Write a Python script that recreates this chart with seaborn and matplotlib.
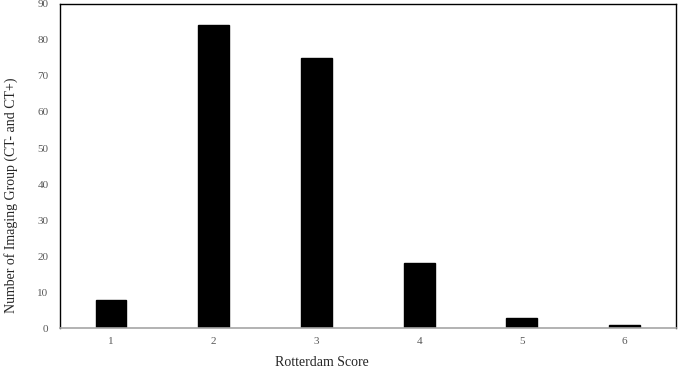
import pandas as pd
import seaborn as sns
import matplotlib.pyplot as plt

# Rotterdam score counts (CT- and CT+)
scores = ["1", "2", "3", "4", "5", "6"]
counts = [8, 84, 75, 18, 3, 1]

df = pd.DataFrame({"Rotterdam Score": scores, "Count": counts})

sns.set_style("white")
plt.rcParams['font.family'] = ['Liberation Serif', 'DejaVu Serif']

fig, ax = plt.subplots(figsize=(6.78, 3.69), dpi=100)
sns.barplot(df, x="Rotterdam Score", y="Count", ax=ax, color="black", width=0.3,
            edgecolor="black", saturation=1)

ax.set_ylim(0, 90)
ax.set_yticks(range(0, 91, 10))
ax.set_xlim(-0.5, 5.5)
ax.set_xlabel("Rotterdam Score", fontsize=10)
ax.set_ylabel("Number of Imaging Group (CT- and CT+)", fontsize=10)
ax.xaxis.set_label_coords(0.425, -0.084)
ax.yaxis.set_label_coords(-0.067, 0.41)
ax.tick_params(axis="y", length=0, labelsize=8, colors="#595959", pad=8)
ax.tick_params(axis="x", length=0, labelsize=8, colors="#595959", pad=6)

for side in ["left", "top", "right"]:
    ax.spines[side].set_color("black")
    ax.spines[side].set_linewidth(1)
ax.spines["bottom"].set_color("#a6a6a6")
ax.spines["bottom"].set_linewidth(1.2)

plt.subplots_adjust(left=0.088, right=0.997, top=0.99, bottom=0.11)
plt.savefig("out.png", dpi=100)
